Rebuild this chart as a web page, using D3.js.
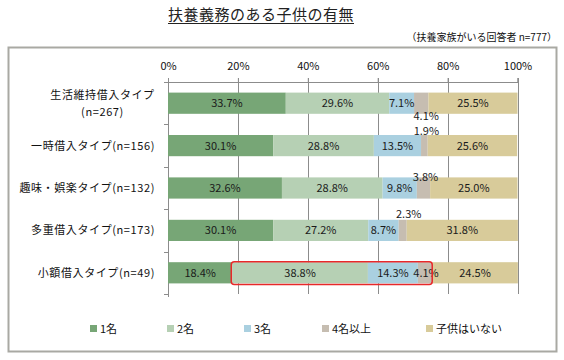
<!DOCTYPE html>
<html>
<head>
<meta charset="utf-8">
<script src="https://cdn.jsdelivr.net/npm/d3@7"></script>
<style>
  body { margin: 0; background: #fff; }
  text { font-family: "Noto Sans CJK JP", "Noto Sans", sans-serif; }
</style>
</head>
<body>
<div id="chart"></div>
<script>
// --- data ---
const categories = ["生活維持借入タイプ", "一時借入タイプ", "趣味・娯楽タイプ", "多重借入タイプ", "小額借入タイプ"];
const counts = [267, 156, 132, 173, 49];
const seriesNames = ["1名", "2名", "3名", "4名以上", "子供はいない"];
const oneChild = [33.7, 30.1, 32.6, 30.1, 18.4];
const twoChildren = [29.6, 28.8, 28.8, 27.2, 38.8];
const threeChildren = [7.1, 13.5, 9.8, 8.7, 14.3];
const fourPlus = [4.1, 1.9, 3.8, 2.3, 4.1];
const noChildren = [25.5, 25.6, 25.0, 31.8, 24.5];
const xTicks = [0, 20, 40, 60, 80, 100];

const colors = ["#77a676", "#b6d0b4", "#aad0e0", "#c6bdb1", "#d8cb9a"];

const width = 564, height = 360;
const svg = d3.select("#chart").append("svg")
  .attr("width", width)
  .attr("height", height);

// outer frame
svg.append("rect")
  .attr("x", 8.5).attr("y", 47.5)
  .attr("width", 548).attr("height", 304)
  .attr("fill", "#fff")
  .attr("stroke", "#a9a9a3")
  .attr("stroke-width", 2);

// title
const title = svg.append("text")
  .attr("x", 261).attr("y", 20)
  .attr("text-anchor", "middle")
  .attr("font-size", 15)
  .attr("letter-spacing", 0.5)
  .attr("fill", "#222")
  .text("扶養義務のある子供の有無");
const tw = title.node().getComputedTextLength();
svg.append("line")
  .attr("x1", 261 - tw / 2).attr("x2", 261 + tw / 2)
  .attr("y1", 23.5).attr("y2", 23.5)
  .attr("stroke", "#222");

svg.append("text")
  .attr("x", 557).attr("y", 41)
  .attr("text-anchor", "end")
  .attr("font-size", 10)
  .attr("fill", "#111")
  .text("（扶養家族がいる回答者 n=777）");

// scales
const x = d3.scaleLinear().domain([0, 100]).range([168, 517.5]);
const y = d3.scaleBand().domain(categories).range([82, 294])
  .paddingInner(0.5).paddingOuter(0.25);
const color = d3.scaleOrdinal().domain(seriesNames).range(colors);

// stack
const rows = categories.map((c, i) => ({
  cat: c,
  n: counts[i],
  "1名": oneChild[i],
  "2名": twoChildren[i],
  "3名": threeChildren[i],
  "4名以上": fourPlus[i],
  "子供はいない": noChildren[i]
}));
const series = d3.stack().keys(seriesNames)(rows);

// grid lines
svg.append("g")
  .selectAll("line")
  .data(xTicks.slice(1))
  .join("line")
  .attr("x1", d => Math.round(x(d)) + 0.5)
  .attr("x2", d => Math.round(x(d)) + 0.5)
  .attr("y1", 78).attr("y2", 294)
  .attr("stroke", "#8c8c8c");

// top axis
const xAxis = svg.append("g")
  .attr("transform", "translate(0,82)")
  .call(d3.axisTop(x).tickValues(xTicks).tickFormat(d => d + "%").tickSize(4).tickPadding(8));
xAxis.select(".domain").attr("stroke", "#8c8c8c");
xAxis.selectAll(".tick line").attr("stroke", "#8c8c8c");
xAxis.selectAll("text").attr("font-size", 11).attr("fill", "#111")
  .style("font-family", "'Noto Sans CJK JP', sans-serif");

// left axis (category boundaries)
const yLine = svg.append("g");
yLine.append("line")
  .attr("x1", 168.5).attr("x2", 168.5)
  .attr("y1", 82).attr("y2", 297)
  .attr("stroke", "#8c8c8c");
yLine.selectAll(".b")
  .data(d3.range(categories.length + 1))
  .join("line")
  .attr("class", "b")
  .attr("x1", 164).attr("x2", 168)
  .attr("y1", i => Math.round(82 + i * y.step()) + 0.5)
  .attr("y2", i => Math.round(82 + i * y.step()) + 0.5)
  .attr("stroke", "#8c8c8c");

// bars
const segs = svg.append("g")
  .selectAll("g")
  .data(series)
  .join("g")
  .attr("fill", d => color(d.key));
segs.selectAll("rect")
  .data(d => d)
  .join("rect")
  .attr("x", d => x(d[0]))
  .attr("y", d => y(d.data.cat))
  .attr("width", d => x(d[1]) - x(d[0]))
  .attr("height", y.bandwidth());

// value labels; the thin "4名以上" labels are nudged off the bar like the original
const nudge = {
  "生活維持借入タイプ": [5, 13],
  "一時借入タイプ": [2, -15],
  "趣味・娯楽タイプ": [2, -11],
  "多重借入タイプ": [6, -16],
  "小額借入タイプ": [1, 0]
};
const labels = svg.append("g");
series.forEach(s => {
  labels.selectAll(null)
    .data(s)
    .join("text")
    .attr("x", d => (x(d[0]) + x(d[1])) / 2 + (s.key === "4名以上" ? nudge[d.data.cat][0] : 0))
    .attr("y", d => y(d.data.cat) + y.bandwidth() / 2 + 4 + (s.key === "4名以上" ? nudge[d.data.cat][1] : 0))
    .attr("text-anchor", "middle")
    .attr("font-size", 11)
    .attr("fill", "#1a1a1a")
    .text(d => d3.format(".1f")(d[1] - d[0]) + "%");
});

// highlight on 小額借入タイプ (2名〜4名以上)
const last = rows[rows.length - 1];
svg.append("rect")
  .attr("x", x(last["1名"]) - 1)
  .attr("y", y(last.cat) - 0.5)
  .attr("width", x(last["1名"] + last["2名"] + last["3名"] + last["4名以上"]) - x(last["1名"]) + 1)
  .attr("height", y.bandwidth() + 1.5)
  .attr("rx", 3)
  .attr("fill", "none")
  .attr("stroke", "#e8282a")
  .attr("stroke-width", 1.5);

// category labels
const catG = svg.append("g");
rows.forEach(r => {
  const cy = y(r.cat) + y.bandwidth() / 2;
  const t = catG.append("text")
    .attr("x", 155).attr("y", cy + 4)
    .attr("text-anchor", "end")
    .attr("font-size", 11)
    .attr("letter-spacing", 0.6)
    .attr("fill", "#111")
    .text(`${r.cat}(n=${r.n})`);
  if (t.node().getComputedTextLength() > 145) {
    // too long: two centered lines
    t.text(null).attr("text-anchor", "middle").attr("x", 102.5).attr("y", cy - 4.5);
    t.append("tspan").attr("x", 102.5).text(r.cat);
    t.append("tspan").attr("x", 102.5).attr("dy", 17.5).text(`(n=${r.n})`);
  }
});

// legend
const legendX = [90, 167, 244, 322, 426];
const legend = svg.append("g")
  .selectAll("g")
  .data(seriesNames)
  .join("g")
  .attr("transform", (d, i) => `translate(${legendX[i]},325)`);
legend.append("rect")
  .attr("width", 7).attr("height", 7)
  .attr("fill", d => color(d));
legend.append("text")
  .attr("x", 10).attr("y", 7.5)
  .attr("font-size", 11)
  .attr("fill", "#111")
  .text(d => d);
</script>
</body>
</html>
